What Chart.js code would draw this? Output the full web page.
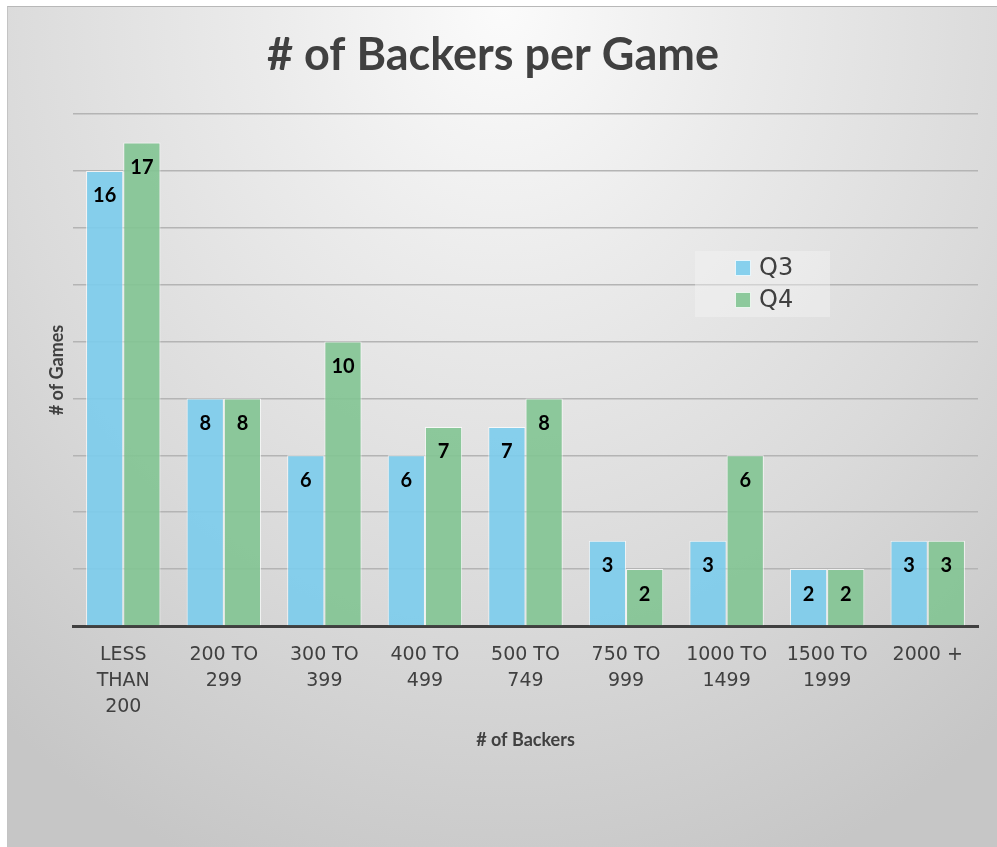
<!DOCTYPE html>
<html>
<head>
<meta charset="utf-8">
<title># of Backers per Game</title>
<script src="https://cdn.jsdelivr.net/npm/chart.js@4.4.0/dist/chart.umd.min.js"></script>
<style>
  body { margin: 0; background: #fff; }
  .frame {
    position: absolute; left: 7px; top: 6px;
    width: 989px; height: 840px;
    border-top: 1px solid #b8b8b8; border-left: 1px solid #c4c4c4;
    background: radial-gradient(ellipse 80% 110% at 50% 0%, #fbfbfb 0%, #ebebeb 30%, #dadada 65%, #c6c6c6 100%);
  }
  canvas { display: block; }
</style>
</head>
<body>
<div class="frame">
  <canvas id="backersChart" width="989" height="840"></canvas>
</div>
<script>
  const categories = [
    ['LESS', 'THAN', '200'], ['200 TO', '299'], ['300 TO', '399'], ['400 TO', '499'],
    ['500 TO', '749'], ['750 TO', '999'], ['1000 TO', '1499'], ['1500 TO', '1999'], ['2000 +']
  ];
  const q3Values = [16, 8, 6, 6, 7, 3, 3, 2, 3];
  const q4Values = [17, 8, 10, 7, 8, 2, 6, 2, 3];
  const yMax = 18;
  const yStep = 2;

  const textColor = '#404040';

  // value printed just under the top of each bar
  const barValues = {
    id: 'barValues',
    afterDatasetsDraw(chart) {
      const ctx = chart.ctx;
      ctx.save();
      ctx.font = 'bold 20px Lato';
      ctx.fillStyle = '#000';
      ctx.textAlign = 'center';
      ctx.textBaseline = 'middle';
      chart.data.datasets.forEach((ds, i) => {
        chart.getDatasetMeta(i).data.forEach((bar, j) => {
          ctx.fillText(ds.data[j], bar.x, bar.y + 25);
        });
      });
      ctx.restore();
    }
  };

  // legend box sitting inside the plot, right of centre
  const insideLegend = {
    id: 'insideLegend',
    afterDraw(chart) {
      const ctx = chart.ctx;
      const x0 = 687, y0 = 244;
      ctx.save();
      ctx.fillStyle = 'rgba(245,245,245,0.45)';
      ctx.fillRect(x0, y0, 135, 66);
      ctx.font = '24px "DejaVu Sans"';
      ctx.textBaseline = 'middle';
      chart.data.datasets.forEach((ds, i) => {
        const cy = y0 + 17 + i * 32;
        ctx.fillStyle = ds.backgroundColor;
        ctx.fillRect(x0 + 40, cy - 8, 16, 16);
        ctx.strokeStyle = 'rgba(255,255,255,0.8)';
        ctx.lineWidth = 1;
        ctx.strokeRect(x0 + 40.5, cy - 7.5, 15, 15);
        ctx.fillStyle = textColor;
        ctx.fillText(ds.label, x0 + 64, cy + 1);
      });
      ctx.restore();
    }
  };

  const ctx = document.getElementById('backersChart').getContext('2d');
  new Chart(ctx, {
    type: 'bar',
    data: {
      labels: categories,
      datasets: [{
        label: 'Q3',
        data: q3Values,
        backgroundColor: 'rgba(123,204,236,0.9)',
        borderColor: 'rgba(255,255,255,0.75)',
        borderWidth: 1,
        categoryPercentage: 0.74,
        barPercentage: 1
      }, {
        label: 'Q4',
        data: q4Values,
        backgroundColor: 'rgba(130,196,146,0.9)',
        borderColor: 'rgba(255,255,255,0.75)',
        borderWidth: 1,
        categoryPercentage: 0.74,
        barPercentage: 1
      }]
    },
    options: {
      responsive: false,
      animation: false,
      devicePixelRatio: 1,
      layout: { padding: { left: 0, right: 19, top: 0, bottom: 81 } },
      plugins: {
        legend: { display: false },
        tooltip: { enabled: false },
        title: {
          display: true,
          text: '# of Backers per Game',
          color: textColor,
          font: { family: 'Lato', size: 45, weight: 'bold', lineHeight: 1.2 },
          padding: { top: 21, bottom: 32 }
        }
      },
      scales: {
        x: {
          grid: { display: false, drawTicks: false },
          border: { display: true, color: '#404040', width: 3 },
          ticks: {
            color: textColor,
            font: { family: 'DejaVu Sans', size: 19, lineHeight: 1.37 },
            padding: 16,
            maxRotation: 0,
            autoSkip: false
          },
          title: {
            display: true,
            text: '# of Backers',
            color: textColor,
            font: { family: 'Lato', size: 18, weight: 'bold' },
            padding: { top: 15, bottom: 15 }
          },
          afterFit(scale) { scale.height = 140; }
        },
        y: {
          min: 0,
          max: yMax,
          grid: { color: '#b4b4b4', lineWidth: 1.5, drawTicks: false },
          border: { display: false },
          ticks: { display: false, stepSize: yStep },
          title: {
            display: true,
            text: '# of Games',
            color: textColor,
            font: { family: 'Lato', size: 18, weight: 'bold' },
            padding: { top: 38, bottom: 0 }
          },
          afterFit(scale) { scale.width = 65; }
        }
      }
    },
    plugins: [barValues, insideLegend]
  });
</script>
</body>
</html>
